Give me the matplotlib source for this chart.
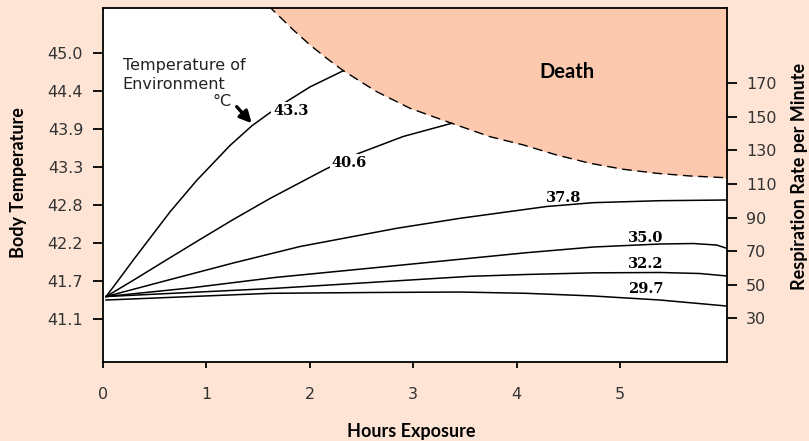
import matplotlib.pyplot as plt
import numpy as np

# colours
bg = '#fde4d5'
death_col = '#fcc9af'

# x: hours of exposure, y: body temperature (deg C)
start_h = 0.033
start_t = 41.44

h_433 = [start_h, 0.135, 0.296, 0.650, 0.908, 1.230, 1.440, 1.592, 1.778, 2.003, 2.325]
t_433 = [start_t, 41.645, 41.975, 42.678, 43.139, 43.651, 43.937, 44.105, 44.295, 44.508, 44.746]

h_406 = [start_h, 0.296, 0.618, 0.940, 1.262, 1.616, 2.148, 2.470, 2.904, 3.372]
t_406 = [start_t, 41.678, 41.978, 42.275, 42.568, 42.875, 43.300, 43.534, 43.783, 43.976]

h_378 = [start_h, 0.618, 1.262, 1.906, 2.841, 3.452, 4.290, 4.740, 5.384, 6.029]
t_378 = [start_t, 41.675, 41.931, 42.172, 42.439, 42.585, 42.758, 42.814, 42.843, 42.853]

h_350 = [start_h, 0.843, 1.665, 2.583, 3.549, 4.097, 4.740, 5.384, 5.706, 5.932, 6.029]
t_350 = [start_t, 41.565, 41.719, 41.855, 42.000, 42.082, 42.165, 42.209, 42.216, 42.194, 42.146]

h_322 = [start_h, 1.665, 3.549, 4.097, 4.740, 5.384, 5.770, 6.029]
t_322 = [start_t, 41.560, 41.736, 41.763, 41.787, 41.792, 41.777, 41.741]

h_297 = [start_h, 1.616, 2.583, 3.452, 4.097, 4.740, 5.384, 6.029]
t_297 = [41.389, 41.487, 41.499, 41.506, 41.487, 41.448, 41.389, 41.301]

# death boundary
h_death = [1.60, 1.643, 1.842, 2.003, 2.164, 2.325, 2.647, 2.969, 3.372, 3.742,
           4.064, 4.386, 4.708, 5.030, 5.353, 5.674, 6.013, 6.05]
t_death = [45.70, 45.635, 45.342, 45.123, 44.928, 44.746, 44.439, 44.196, 43.976, 43.780,
           43.659, 43.512, 43.391, 43.303, 43.244, 43.205, 43.180, 43.178]

curves = [
    (h_433, t_433, '43.3', 1.817, 44.153, True),
    (h_406, t_406, '40.6', 2.385, 43.391, True),
    (h_378, t_378, '37.8', 4.450, 42.883, False),
    (h_350, t_350, '35.0', 5.243, 42.293, False),
    (h_322, t_322, '32.2', 5.243, 41.913, False),
    (h_297, t_297, '29.7', 5.243, 41.547, False),
]

# left ticks: 106..113 F shown in C
fahr = np.arange(106, 114)
left_ticks = (fahr - 32) * 5 / 9
left_labels = ['%.1f' % v for v in left_ticks]
right_ticks = [30, 50, 70, 90, 110, 130, 150, 170]
x_ticks = [0, 1, 2, 3, 4, 5]

fig = plt.figure(figsize=(8.09, 4.41), dpi=100)
fig.patch.set_facecolor(bg)
ax = fig.add_axes([0.1269, 0.1798, 0.8983 - 0.1269, 0.9819 - 0.1798])
ax.set_facecolor('white')
ax.set_xlim(0, 6.029)
ax.set_ylim(40.486, 45.664)

top = ax.get_ylim()[1] + 1
ax.fill_between(h_death, t_death, top, color=death_col, lw=0, zorder=1)
ax.plot(h_death, t_death, color='black', lw=1.0, dashes=(7, 4), zorder=2)

for h, t, lab, lx, ly, boxed in curves:
    ax.plot(h, t, color='black', lw=1.1, zorder=3, solid_joinstyle='round')
    kw = {}
    if boxed:
        kw['bbox'] = dict(facecolor='white', edgecolor='none', pad=1.5)
    ax.text(lx, ly, lab, ha='center', va='center', fontsize=10.5,
            family='DejaVu Serif', fontweight='bold', zorder=4, **kw)

ax.text(4.486, 44.72, 'Death', ha='center', va='center', fontsize=14.5,
        family='Lato', fontweight='bold', zorder=4)

ax.text(0.193, 44.757, 'Temperature of', ha='left', va='baseline',
        fontsize=11.5, color='#222222', zorder=4)
ax.text(0.193, 44.474, 'Environment', ha='left', va='baseline',
        fontsize=11.5, color='#222222', zorder=4)
ax.text(1.249, 44.30, '°C', ha='right', va='center',
        fontsize=11.5, color='#222222', zorder=4)
ax.annotate('', xy=(1.44, 43.976), xytext=(1.295, 44.219),
            arrowprops=dict(arrowstyle='-|>,head_length=0.7,head_width=0.35',
                            color='black', lw=2.4, shrinkA=0, shrinkB=0),
            zorder=4)

for s in ax.spines.values():
    s.set_linewidth(1.3)
    s.set_zorder(5)

ax.set_xticks(x_ticks)
ax.set_xticklabels([str(v) for v in x_ticks])
ax.tick_params(axis='x', direction='out', length=4, width=1.3, pad=14,
               labelsize=11.5, labelcolor='#333333')
ax.set_yticks(left_ticks)
ax.set_yticklabels(left_labels)
ax.tick_params(axis='y', direction='out', length=7, width=1.3, pad=7,
               labelsize=11.5, labelcolor='#333333')

ax2 = ax.twinx()
ax2.set_ylim(4.14, 214.9)
ax2.set_yticks(right_ticks)
ax2.set_yticklabels([str(v) for v in right_ticks])
ax2.tick_params(axis='y', direction='out', length=7, width=1.3, pad=7,
                labelsize=11.5, labelcolor='#333333')
for s in ax2.spines.values():
    s.set_visible(False)

fig.text(0.0229, 0.585, 'Body Temperature', rotation=90, ha='center', va='center',
         fontsize=13, family='Lato', fontweight='bold')
fig.text(0.988, 0.60, 'Respiration Rate per Minute', rotation=90, ha='center',
         va='center', fontsize=13, family='Lato', fontweight='bold')
fig.text(0.508, 0.0211, 'Hours Exposure', ha='center', va='center',
         fontsize=13, family='Lato', fontweight='bold')

fig.savefig('out.png', dpi=100, facecolor=bg)
